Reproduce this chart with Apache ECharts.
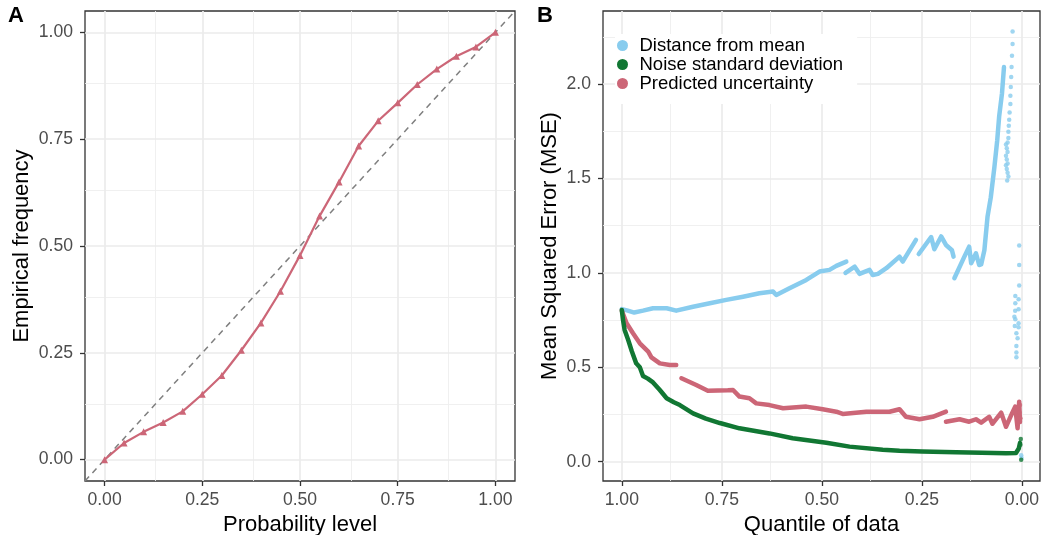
<!DOCTYPE html>
<html>
<head>
<meta charset="utf-8">
<script src="https://cdn.jsdelivr.net/npm/echarts@6/dist/echarts.min.js"></script>
<style>
html,body{margin:0;padding:0;background:#fff;}
#chart{width:1042px;height:535px;}
</style>
</head>
<body>
<div id="chart"></div>
<script>
// ---------- Panel A data ----------
const probLevel = [0,0.05,0.10,0.15,0.20,0.25,0.30,0.35,0.40,0.45,0.50,0.55,0.60,0.65,0.70,0.75,0.80,0.85,0.90,0.95,1.00];
const empFreq   = [0,0.039,0.065,0.087,0.113,0.153,0.197,0.256,0.320,0.394,0.478,0.570,0.650,0.734,0.793,0.835,0.878,0.914,0.944,0.966,1.0];
const diagRef   = [-0.05, 1.05];
const ticksA    = [0, 0.25, 0.5, 0.75, 1];
const minorA    = [0.125, 0.375, 0.625, 0.875];

// ---------- Panel B data (quantile, MSE) ----------
const ticksBx = [0, 0.25, 0.5, 0.75, 1];
const minorBx = [0.125, 0.375, 0.625, 0.875];
const ticksBy = [0, 0.5, 1, 1.5, 2];
const minorBy = [0.25, 0.75, 1.25, 1.75, 2.25];

const distMeanPath = [
  [1.0,0.808],[0.985,0.80],[0.969,0.79],[0.947,0.80],[0.922,0.813],[0.888,0.813],[0.864,0.80],
  [0.822,0.821],[0.780,0.839],[0.739,0.857],[0.697,0.874],[0.656,0.892],[0.622,0.901],[0.614,0.883],
  [0.581,0.919],[0.539,0.963],[0.506,1.007],[0.481,1.016],[0.464,1.037],[0.439,1.06],
  ['-','-'],
  [0.441,1.0],[0.418,1.033],[0.406,0.995],[0.381,1.016],[0.373,0.989],[0.36,0.995],[0.339,1.025],
  [0.306,1.086],[0.298,1.06],[0.265,1.175],
  ['-','-'],
  [0.258,1.10],[0.227,1.19],[0.219,1.125],[0.202,1.193],[0.19,1.148],[0.175,1.12],[0.171,1.086],
  ['-','-'],
  [0.169,0.972],[0.144,1.086],[0.132,1.139],[0.127,1.051],[0.115,1.104],[0.107,1.042],[0.102,1.045],
  [0.094,1.12],[0.086,1.30],[0.078,1.40],[0.069,1.56],[0.062,1.70],[0.057,1.83],[0.050,1.95],[0.045,2.09]
];
const distMeanDots = [
  [0.0235,2.279],[0.0235,2.212],[0.025,2.15],[0.026,2.09],[0.027,2.037],[0.028,1.984],[0.029,1.938],
  [0.029,1.894],[0.031,1.85],[0.032,1.811],[0.033,1.779],[0.034,1.747],[0.034,1.714],
  [0.036,1.69],[0.040,1.68],[0.038,1.66],[0.036,1.64],[0.040,1.62],[0.038,1.60],[0.036,1.58],
  [0.040,1.57],[0.038,1.55],[0.036,1.53],[0.034,1.51],[0.037,1.49],
  [0.007,1.145],[0.007,1.042],[0.007,0.933],[0.0167,0.878],[0.0085,0.861],[0.0167,0.839],[0.0085,0.808],
  [0.017,0.80],[0.019,0.768],[0.0167,0.755],[0.0085,0.733],[0.018,0.719],[0.0085,0.712],[0.014,0.68],
  [0.011,0.654],[0.014,0.613],[0.014,0.578],[0.014,0.553],[0.002,0.035],[0.001,0.02]
];
const noisePath = [
  [1.0,0.804],[0.997,0.751],[0.993,0.698],[0.984,0.645],[0.975,0.585],[0.964,0.521],[0.955,0.50],
  [0.947,0.454],[0.935,0.44],[0.922,0.42],[0.905,0.38],[0.888,0.336],[0.87,0.315],[0.855,0.30],
  [0.822,0.256],[0.79,0.228],[0.755,0.205],[0.706,0.177],[0.681,0.168],[0.631,0.150],[0.573,0.124],
  [0.489,0.101],[0.431,0.08],[0.348,0.064],[0.306,0.058],[0.25,0.054],[0.165,0.050],[0.10,0.047],
  [0.04,0.045],[0.015,0.046],[0.008,0.07],[0.005,0.10]
];
const noiseDots = [[0.003,0.12],[0.004,0.09],[0.002,0.01]];
const predPath = [
  [1.0,0.80],[0.997,0.795],[0.988,0.733],[0.972,0.68],[0.955,0.627],[0.934,0.583],[0.926,0.553],
  [0.905,0.521],[0.88,0.512],[0.864,0.512],
  ['-','-'],
  [0.851,0.442],[0.814,0.406],[0.785,0.376],[0.735,0.378],[0.722,0.38],[0.706,0.345],[0.681,0.336],
  [0.664,0.309],[0.631,0.30],[0.597,0.283],[0.539,0.292],[0.498,0.278],[0.464,0.265],[0.448,0.253],
  [0.389,0.265],[0.331,0.265],[0.306,0.278],[0.29,0.238],[0.256,0.225],[0.223,0.238],[0.19,0.265],
  ['-','-'],
  [0.19,0.212],[0.156,0.225],[0.132,0.212],[0.115,0.225],[0.102,0.207],[0.082,0.238],[0.074,0.201],
  [0.052,0.26],[0.04,0.185],[0.025,0.256],[0.017,0.292],[0.011,0.177],[0.007,0.318],[0.005,0.21]
];
const predDots = [[0.005,0.30],[0.006,0.26],[0.004,0.23]];

const seriesNames = ['Distance from mean','Noise standard deviation','Predicted uncertainty'];
const colBlue = '#88CCEE', colGreen = '#117733', colRed = '#CC6677';

const FONT = "'Liberation Sans', Arial, Helvetica, sans-serif";
const gridMajor = {color:'#EBEBEB', width:1.7, type:'solid'};
const gridMinor = {color:'#EEEEEE', width:0.9, type:'solid'};

function gridLines(xMaj, xMin, yMaj, yMin) {
  const d = [];
  xMin.forEach(v => d.push({xAxis:v, lineStyle:gridMinor}));
  yMin.forEach(v => d.push({yAxis:v, lineStyle:gridMinor}));
  xMaj.forEach(v => d.push({xAxis:v, lineStyle:gridMajor}));
  yMaj.forEach(v => d.push({yAxis:v, lineStyle:gridMajor}));
  return d;
}

function valueAxis(opt) {
  return Object.assign({
    type:'value',
    axisLine:{show:false, onZero:false},
    splitLine:{show:false},
    nameLocation:'middle',
    nameTextStyle:{fontSize:22, color:'#000', fontFamily:FONT},
  }, opt);
}
function tick(vals){ return {show:true, length:5, customValues:vals.slice(), lineStyle:{color:'#333333', width:1.3}}; }
function label(vals, dec, margin){ return {customValues:vals.slice(), formatter:v=>v.toFixed(dec), color:'#4D4D4D', fontSize:17.6, margin:margin, fontFamily:FONT}; }

const chart = echarts.init(document.getElementById('chart'), null, {renderer:'canvas'});
const option = {
  animation:false,
  backgroundColor:'#fff',
  textStyle:{fontFamily:FONT},
  grid:[
    {left:85, top:11, width:430, height:470, show:true, borderColor:'#333333', borderWidth:1.3,
      backgroundColor:'transparent', containLabel:false, outerBoundsMode:'none'},
    {left:603, top:11, width:437, height:470, show:true, borderColor:'#333333', borderWidth:1.3,
      backgroundColor:'transparent', containLabel:false, outerBoundsMode:'none'}
  ],
  xAxis:[
    valueAxis({gridIndex:0, min:-0.05, max:1.05, name:'Probability level', nameGap:27,
      axisTick:tick(ticksA), axisLabel:label(ticksA, 2, 10)}),
    valueAxis({gridIndex:1, min:-0.045, max:1.047, inverse:true, name:'Quantile of data', nameGap:27,
      axisTick:tick(ticksBx), axisLabel:label(ticksBx, 2, 10)})
  ],
  yAxis:[
    valueAxis({gridIndex:0, min:-0.05, max:1.05, name:'Empirical frequency', nameGap:52,
      axisTick:tick(ticksA), axisLabel:label(ticksA, 2, 12)}),
    valueAxis({gridIndex:1, min:-0.102, max:2.387, name:'Mean Squared Error (MSE)', nameGap:42,
      axisTick:tick(ticksBy), axisLabel:label(ticksBy, 1, 12)})
  ],
  legend:{
    show:true, orient:'vertical', left:615, top:34,
    padding:[2,14,11,2], backgroundColor:'#fff',
    itemWidth:24, itemHeight:11, itemGap:0,
    selectedMode:false,
    textStyle:{fontSize:18.5, color:'#000', fontFamily:FONT, lineHeight:18},
    data:seriesNames.map(n=>({name:n, icon:'circle'}))
  },
  graphic:[
    {type:'text', left:8, top:5, style:{text:'A', fontSize:22, fontWeight:'bold', fill:'#000', fontFamily:FONT}},
    {type:'text', left:537, top:5, style:{text:'B', fontSize:22, fontWeight:'bold', fill:'#000', fontFamily:FONT}}
  ],
  series:[
    {type:'line', xAxisIndex:0, yAxisIndex:0, data:[], silent:true,
      markLine:{silent:true, z:1, symbol:['none','none'], label:{show:false}, animation:false,
        data:gridLines(ticksA, minorA, ticksA, minorA)}},
    {type:'line', xAxisIndex:0, yAxisIndex:0, silent:true, z:2,
      data:diagRef.map(v=>[v,v]), showSymbol:false, symbol:'none',
      lineStyle:{color:'#7F7F7F', width:1.5, type:[6,5]}},
    {type:'line', xAxisIndex:0, yAxisIndex:0, z:3,
      data:probLevel.map((p,i)=>[p, empFreq[i]]),
      symbol:'triangle', symbolSize:7, showSymbol:true,
      itemStyle:{color:colRed}, lineStyle:{color:colRed, width:2.2}},

    {type:'line', xAxisIndex:1, yAxisIndex:1, data:[], silent:true,
      markLine:{silent:true, z:1, symbol:['none','none'], label:{show:false}, animation:false,
        data:gridLines(ticksBx, minorBx, ticksBy, minorBy)}},
    {name:seriesNames[0], type:'line', xAxisIndex:1, yAxisIndex:1, z:3, data:distMeanPath,
      showSymbol:false, symbol:'circle', connectNulls:false,
      itemStyle:{color:colBlue}, lineStyle:{color:colBlue, width:4.5, cap:'round', join:'round'}},
    {name:seriesNames[0], type:'scatter', xAxisIndex:1, yAxisIndex:1, z:3, data:distMeanDots,
      symbol:'circle', symbolSize:4.5, itemStyle:{color:colBlue}},
    {name:seriesNames[2], type:'line', xAxisIndex:1, yAxisIndex:1, z:4, data:predPath,
      showSymbol:false, symbol:'circle', connectNulls:false,
      itemStyle:{color:colRed}, lineStyle:{color:colRed, width:4.5, cap:'round', join:'round'}},
    {name:seriesNames[2], type:'scatter', xAxisIndex:1, yAxisIndex:1, z:4, data:predDots,
      symbol:'circle', symbolSize:4.5, itemStyle:{color:colRed}},
    {name:seriesNames[1], type:'line', xAxisIndex:1, yAxisIndex:1, z:5, data:noisePath,
      showSymbol:false, symbol:'circle', connectNulls:false,
      itemStyle:{color:colGreen}, lineStyle:{color:colGreen, width:4.5, cap:'round', join:'round'}},
    {name:seriesNames[1], type:'scatter', xAxisIndex:1, yAxisIndex:1, z:5, data:noiseDots,
      symbol:'circle', symbolSize:4.5, itemStyle:{color:colGreen}}
  ]
};
chart.setOption(option);
</script>
</body>
</html>
